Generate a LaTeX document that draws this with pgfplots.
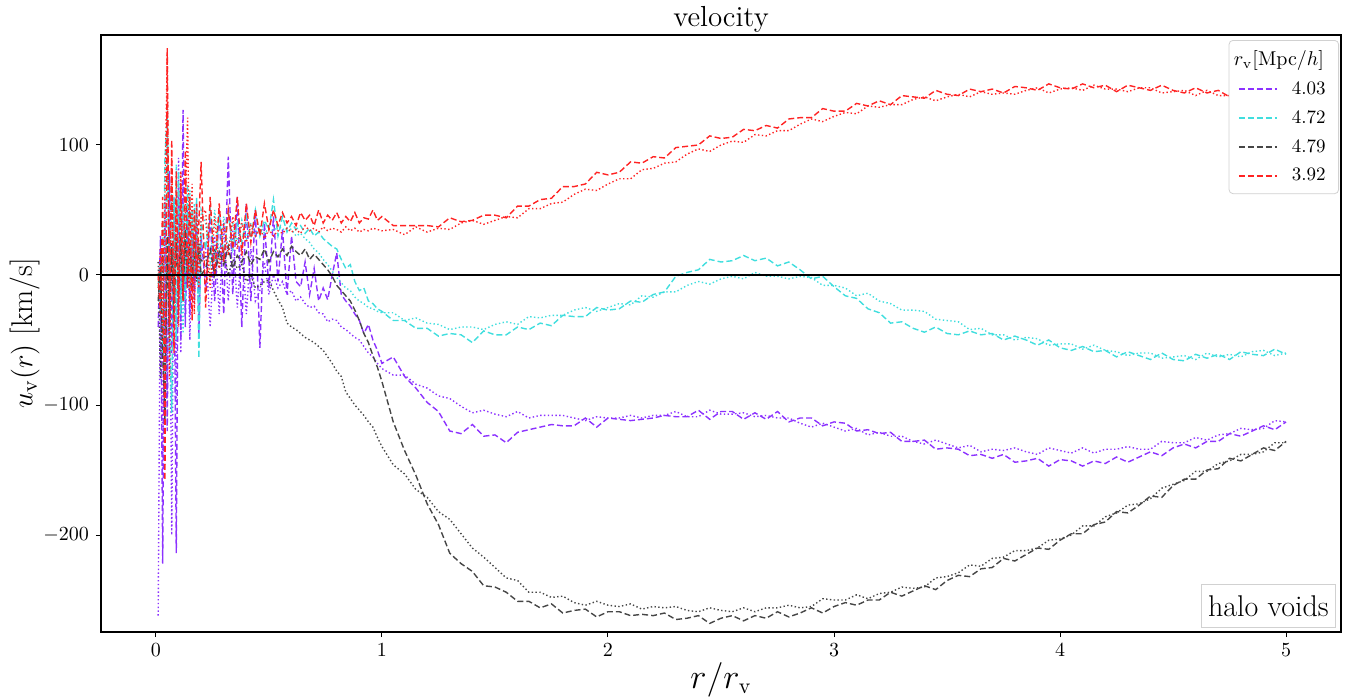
\documentclass[border=0pt]{standalone}
\usepackage{pgfplots}
\usepackage{pgfplotstable}
\pgfplotsset{compat=1.18}
\definecolor{cpur}{RGB}{140,50,255}
\definecolor{ccyan}{RGB}{64,222,222}
\definecolor{cgray}{RGB}{70,70,70}
\definecolor{cred}{RGB}{255,35,35}
\pgfplotstableread{
x pa pd ca cd ga gd ra rd
0.01 -40 -262 -10 0 -20 10 0 -10
0.02 30 20 10 -30 5 -80 -30 20
0.03 -222 -150 -60 40 -60 20 60 -50
0.04 60 50 90 -80 -111 -70 -158 60
0.05 -120 -90 125 132 30 15 175 170
0.06 80 40 -40 -60 -40 -50 -40 -80
0.07 -60 -200 -106 70 20 25 104 90
0.08 40 60 60 -40 -30 -20 -60 -20
0.09 -214 -100 -50 85 25 30 80 60
0.10 70 90 80 -20 -10 -15 -30 -40
0.11 -50 -60 -30 60 30 20 70 80
0.12 127 70 55 -45 -20 -5 -20 -10
0.13 -40 -30 -20 50 35 25 96 50
0.14 50 45 70 -10 0 -10 -10 121
0.15 -30 -50 -10 65 25 20 60 -20
0.16 40 30 50 -5 -10 5 -35 70
0.17 -20 -25 0 55 30 15 50 -30
0.18 55 40 60 10 5 -5 0 55
0.19 -45 -35 -64 -30 20 25 40 -10
0.20 30 25 40 50 0 10 87 45
0.22 -10 20 20 40 5 15 -25 50
0.24 45 -40 50 10 20 -5 60 -10
0.26 -20 30 10 50 0 20 0 45
0.28 50 -30 45 15 18 5 55 5
0.30 -30 40 15 45 8 18 10 40
0.32 91 -20 48 20 22 0 50 15
0.34 -15 35 20 40 5 12 20 45
0.36 60 -25 40 25 15 5 60 20
0.38 -40 25 25 42 10 8 15 40
0.40 55 -30 45 28 18 -5 55 25
0.42 -20 20 28 40 8 0 25 38
0.44 50 -20 50 30 14 -10 50 30
0.46 -56 -12 30 38 12 -8 30 36
0.48 40 10 42 32 20 -5 55 28
0.50 -10 -15 35 36 10 -4 35 35
0.52 45 0 58 34 18 -12 50 30
0.54 -5 -10 30 38 14 -19 38 34
0.56 35 -5 45 35 20 -25 48 32
0.58 -15 -15 33 36 15 -37 40 36
0.60 30 -12 40 35 22 -40 45 33
0.62 -5 -20 35 30 18 -42 38 35
0.64 -9 -17 38 32 15 -45 48 32
0.66 10 -22 32 28 20 -48 42 38
0.68 -15 -25 36 25 12 -50 46 34
0.70 5 -24 30 20 16 -52 38 36
0.72 -20 -29 33 17 12 -55 50 33
0.74 -10 -30 28 12 8 -58 40 37
0.76 -19 -36 25 8 4 -63 46 34
0.78 0 -34 22 3 -1 -68 42 36
0.80 17 -35 20 -2 -8 -74 48 35
0.82 -15 -40 12 -6 -12 -78 40 33
0.84 -20 -42 5 -10 -16 -90 45 37
0.86 -24 -45 8 -12 -20 -95 41 34
0.88 -30 -48 -5 -17 -27 -100 48 36
0.90 -35 -50 -12 -20 -35 -104 40 33
0.92 -45 -55 -10 -22 -45 -108 44 35
0.94 -38 -60 -20 -25 -52 -113 43 34
0.96 -50 -63 -22 -26 -62 -117 50 36
0.98 -58 -68 -26 -28 -71 -125 42 35
1.00 -68 -72 -28 -29 -82 -132 45 34
1.05 -63 -77 -35 -29 -113 -146 38 35
1.10 -78 -77 -35 -35 -135 -153 38 31
1.15 -87 -84 -41 -33 -154 -165 38 37
1.20 -98 -87 -41 -37 -176 -171 38 33
1.25 -105 -93 -47 -38 -192 -182 37 36
1.30 -120 -95 -45 -42 -214 -188 44 35
1.35 -122 -101 -46 -40 -222 -199 41 40
1.40 -115 -106 -52 -40 -228 -210 42 42
1.45 -124 -104 -43 -42 -239 -217 46 39
1.50 -123 -107 -46 -38 -240 -225 46 42
1.55 -129 -109 -46 -36 -244 -233 44 45
1.60 -121 -105 -40 -38 -251 -235 53 44
1.65 -119 -110 -42 -32 -251 -244 53 51
1.70 -117 -108 -37 -33 -256 -244 58 51
1.75 -115 -108 -39 -31 -253 -248 59 55
1.80 -116 -108 -31 -31 -260 -247 68 56
1.85 -116 -110 -32 -27 -258 -252 68 62
1.90 -110 -112 -32 -25 -257 -254 70 66
1.95 -117 -109 -25 -28 -263 -251 79 65
2.00 -110 -110 -27 -25 -259 -254 77 70
2.05 -111 -110 -26 -22 -259 -255 79 74
2.10 -112 -108 -20 -23 -262 -253 87 74
2.15 -111 -110 -21 -16 -261 -257 86 81
2.20 -110 -108 -15 -17 -262 -255 91 82
2.25 -108 -108 -13 -13 -260 -256 90 86
2.30 -109 -105 -1 -13 -265 -255 98 87
2.35 -109 -109 2 -8 -264 -258 99 93
2.40 -104 -109 4 -5 -262 -259 100 97
2.45 -111 -104 12 -7 -268 -256 107 95
2.50 -105 -107 10 -3 -264 -258 105 100
2.55 -105 -107 11 -1 -262 -259 106 103
2.60 -111 -106 15 -3 -266 -256 112 102
2.65 -106 -109 11 2 -262 -259 111 108
2.70 -111 -108 13 -1 -264 -256 115 107
2.75 -105 -110 7 -1 -259 -256 113 111
2.80 -113 -110 10 -3 -263 -254 120 111
2.85 -110 -114 4 -1 -260 -256 121 116
2.90 -110 -117 -3 -2 -256 -255 121 120
2.95 -116 -114 -1 -8 -260 -249 128 118
3.00 -113 -117 -9 -8 -255 -250 126 122
3.05 -114 -120 -16 -10 -252 -250 126 125
3.10 -120 -118 -18 -16 -254 -246 132 124
3.15 -119 -123 -26 -14 -250 -249 130 130
3.20 -122 -121 -29 -20 -250 -245 134 129
3.25 -121 -124 -37 -22 -244 -244 131 131
3.30 -128 -124 -36 -27 -247 -240 138 131
3.35 -128 -128 -41 -27 -243 -241 137 135
3.40 -127 -130 -44 -28 -239 -240 136 137
3.45 -134 -127 -40 -34 -242 -233 142 134
3.50 -133 -130 -45 -35 -235 -232 139 137
3.55 -134 -133 -46 -36 -231 -229 138 139
3.60 -139 -131 -43 -42 -232 -223 143 137
3.65 -138 -136 -46 -41 -226 -224 141 141
3.70 -141 -134 -45 -46 -225 -218 143 139
3.75 -138 -135 -50 -46 -218 -217 140 140
3.80 -144 -133 -47 -50 -220 -212 145 139
3.85 -143 -136 -50 -48 -215 -212 144 142
3.90 -141 -138 -54 -49 -210 -210 142 144
3.95 -147 -133 -50 -54 -211 -204 147 140
4.00 -142 -135 -56 -53 -204 -203 144 143
4.05 -143 -137 -58 -53 -199 -200 143 144
4.10 -147 -133 -55 -57 -199 -193 147 142
4.15 -143 -137 -59 -54 -192 -193 144 146
4.20 -145 -134 -58 -58 -190 -186 146 143
4.25 -140 -134 -63 -59 -182 -183 141 143
4.30 -144 -132 -59 -62 -183 -177 146 141
4.35 -140 -134 -62 -60 -177 -176 144 144
4.40 -136 -134 -65 -60 -170 -172 142 144
4.45 -139 -128 -60 -64 -171 -164 146 140
4.50 -133 -129 -65 -63 -162 -161 142 141
4.55 -130 -129 -66 -62 -157 -158 140 142
4.60 -133 -125 -61 -65 -157 -151 144 138
4.65 -128 -127 -64 -60 -150 -151 140 142
4.70 -128 -123 -61 -63 -149 -145 142 138
4.75 -122 -122 -65 -61 -141 -143 137 138
4.80 -124 -118 -59 -63 -143 -138 142 136
4.85 -120 -119 -61 -59 -138 -138 139 138
4.90 -116 -118 -62 -58 -133 -136 137 139
4.95 -119 -112 -57 -62 -135 -129 141 134
5.00 -113 -113 -61 -60 -128 -129 137 136
}\data

\tikzset{
  dsh/.style={dash pattern=on 3pt off 1.5pt, line width=0.7pt},
  dtt/.style={dash pattern=on 0.7pt off 1.2pt, line width=0.7pt},
}

\begin{document}
\begin{tikzpicture}
\begin{axis}[
  scale only axis, width=620pt, height=298.5pt,
  xmin=-0.243, xmax=5.243, ymin=-274.6, ymax=184.6,
  xtick={0,1,2,3,4,5}, ytick={-200,-100,0,100},
  xtick pos=bottom, ytick pos=left,
  tick align=outside, major tick length=2.5pt,
  tick style={black, line width=0.5pt},
  axis line style={line width=0.6pt},
  tick label style={font=\fontsize{10}{12}\selectfont},
  title={velocity},
  every axis title/.style={at={(axis description cs:0.5,1.0134)}, anchor=base, font=\fontsize{14.5}{17}\selectfont},
  xlabel={$r/r_{\mathrm{v}}$},
  xlabel style={at={(axis description cs:0.5,-0.0938)}, anchor=base, font=\fontsize{16}{19}\selectfont},
  ylabel={$u_{\mathrm{v}}(r)$ [km/s]},
  ylabel style={at={(axis description cs:-0.0613,0.5)}, anchor=center, font=\fontsize{15}{18}\selectfont},
  legend style={at={(0.9984,0.9916)}, anchor=north east, draw=black!18, rounded corners=2pt,
    font=\fontsize{9.5}{11}\selectfont, row sep=2.5pt, inner xsep=4.5pt, inner ysep=3pt},
  legend cell align=left,
  legend image code/.code={\draw[#1] (0pt,0pt) -- (19pt,0pt); \path (24pt,0pt);},
]
\addplot[cpur, dsh, forget plot] table[x=x,y=pa]{\data};
\addplot[cpur, dtt, forget plot] table[x=x,y=pd]{\data};
\addplot[ccyan, dsh, forget plot] table[x=x,y=ca]{\data};
\addplot[ccyan, dtt, forget plot] table[x=x,y=cd]{\data};
\addplot[cgray, dsh, forget plot] table[x=x,y=ga]{\data};
\addplot[cgray, dtt, forget plot] table[x=x,y=gd]{\data};
\addplot[cred, dsh, forget plot] table[x=x,y=ra]{\data};
\addplot[cred, dtt, forget plot] table[x=x,y=rd]{\data};

\addplot[black, line width=0.75pt, forget plot] coordinates {(-0.243,0) (5.243,0)};

\addlegendimage{empty legend}
\addlegendentry{\hspace*{-29pt}\fontsize{10}{12}\selectfont$r_{\mathrm{v}}$[Mpc/$h$]}
\addlegendimage{cpur, dsh, line width=0.9pt}
\addlegendentry{4.03}
\addlegendimage{ccyan, dsh, line width=0.9pt}
\addlegendentry{4.72}
\addlegendimage{cgray, dsh, line width=0.9pt}
\addlegendentry{4.79}
\addlegendimage{cred, dsh, line width=0.9pt}
\addlegendentry{3.92}

\node[draw=black!18, fill=white, anchor=south east, inner xsep=3.5pt, inner ysep=0pt,
  minimum height=21.5pt, font=\fontsize{15}{18}\selectfont] at (rel axis cs:0.996,0.0067) {halo voids};

\coordinate (bl) at (rel axis cs:0,0);
\coordinate (tr) at (rel axis cs:1,1);
\end{axis}
\pgfresetboundingbox
\path ([shift={(-50.5pt,-32pt)}]bl) rectangle ([shift={(5pt,17.5pt)}]tr);
\end{tikzpicture}
\end{document}
